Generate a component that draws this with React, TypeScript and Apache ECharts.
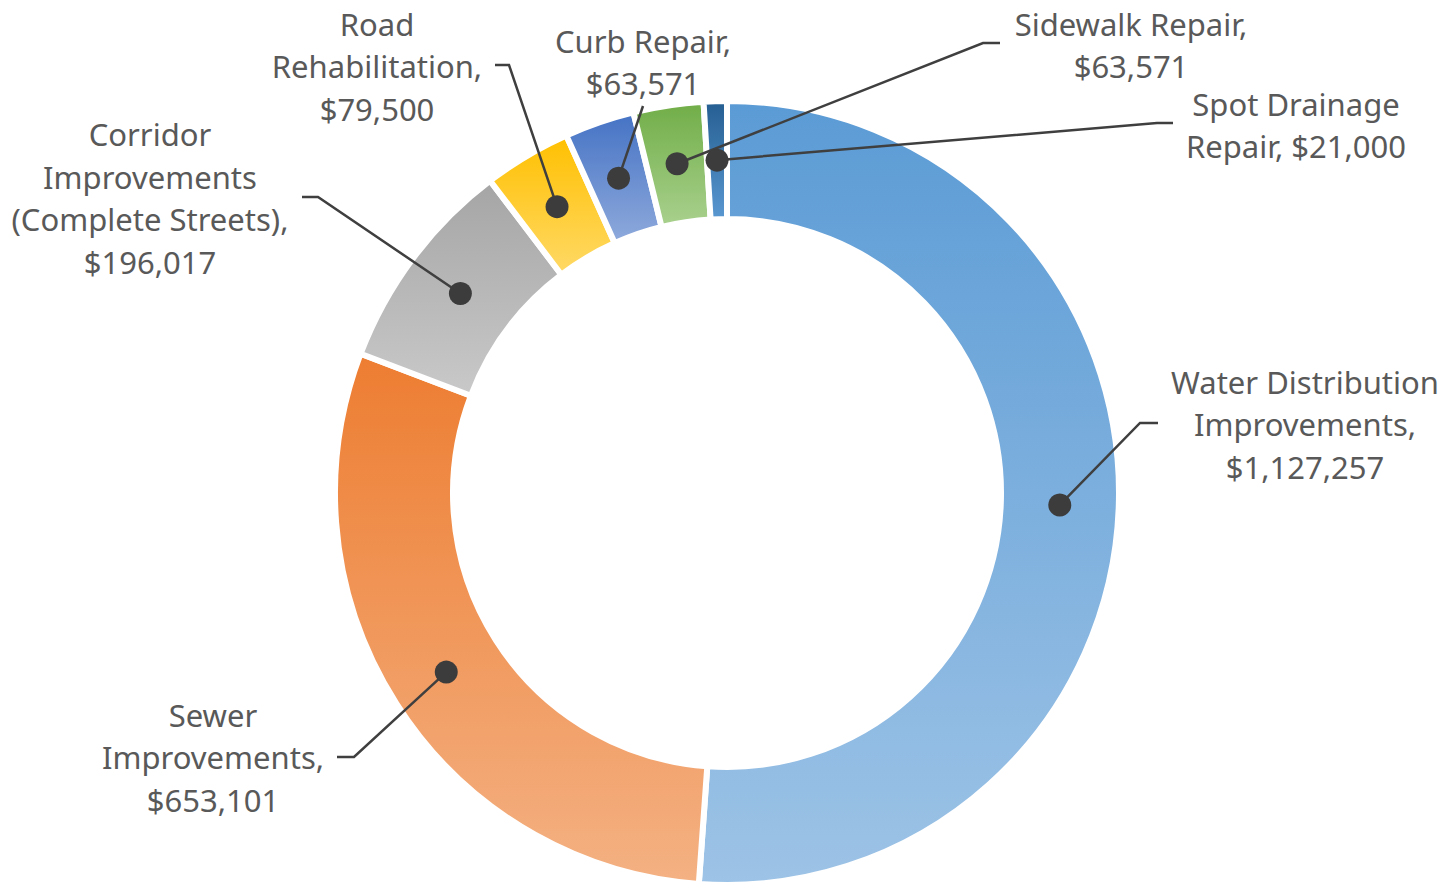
import React, { useEffect, useRef } from "react";
import * as echarts from "echarts";

// ---- data ----
const CATEGORIES = [
  "Water Distribution Improvements",
  "Sewer Improvements",
  "Corridor Improvements (Complete Streets)",
  "Road Rehabilitation",
  "Curb Repair",
  "Sidewalk Repair",
  "Spot Drainage Repair",
];
const VALUES = [1127257, 653101, 196017, 79500, 63571, 63571, 21000];
// wrapped label text (name part) and separator before the value
const LABEL_NAMES = [
  "Water Distribution\nImprovements",
  "Sewer\nImprovements",
  "Corridor\nImprovements\n(Complete Streets)",
  "Road\nRehabilitation",
  "Curb Repair",
  "Sidewalk Repair",
  "Spot Drainage\nRepair",
];
const VALUE_SEP = ["\n", "\n", "\n", "\n", "\n", "\n", " "];

// ---- styles / layout ----
const TOP_COLORS = ["#5B9BD5", "#ED7D31", "#A5A5A5", "#FFC000", "#4472C4", "#70AD47", "#255E91"];
const BOTTOM_COLORS = ["#9DC3E6", "#F4B183", "#C9C9C9", "#FFD966", "#8FAADC", "#A9D18E", "#5A98D2"];
const CENTER: [number, number] = [727, 493];
const OUTER = 389;
const INNER = 277;
const GAP = 6;
const DOT_R = (OUTER + INNER) / 2;
// label centres and leader elbows / ends
const LABEL_POS: [number, number][] = [
  [1305, 424],
  [213, 757],
  [150, 198],
  [377, 66],
  [643, 62],
  [1131, 45],
  [1296, 125],
];
const LINE_ELBOW: [number, number][] = [
  [1140, 423],
  [354, 757],
  [318, 197],
  [509, 65],
  [643, 106],
  [983, 43],
  [1157, 123],
];
const LINE_END: [number, number][] = [
  [1158, 423],
  [337, 757],
  [302, 197],
  [495, 65],
  [643, 106],
  [1000, 43],
  [1173, 123],
];

const TOTAL = VALUES.reduce((a, b) => a + b, 0);
const MIDS: number[] = [];
{
  let acc = 0;
  for (const v of VALUES) {
    MIDS.push(acc + v / 2);
    acc += v;
  }
}

function dotPixel(i: number): [number, number] {
  const th = (MIDS[i] / TOTAL) * Math.PI * 2;
  return [CENTER[0] + DOT_R * Math.sin(th), CENTER[1] - DOT_R * Math.cos(th)];
}

export default function App() {
  const ref = useRef<HTMLDivElement>(null);
  useEffect(() => {
    if (!ref.current) return;
    const chart = echarts.init(ref.current, undefined, { renderer: "svg" });
    const pieBase = {
      type: "pie",
      center: CENTER,
      radius: [INNER - GAP / 2, OUTER + GAP / 2],
      startAngle: 90,
      clockwise: true,
      avoidLabelOverlap: false,
      silent: true,
      emphasis: { disabled: true },
    };
    const option: any = {
      animation: false,
      backgroundColor: "#ffffff",
      polar: { center: CENTER, radius: OUTER },
      angleAxis: {
        type: "value",
        min: 0,
        max: TOTAL,
        startAngle: 90,
        clockwise: true,
        show: false,
      },
      radiusAxis: { type: "value", min: 0, max: OUTER, show: false },
      series: [
        {
          ...pieBase,
          id: "donut",
          z: 2,
          itemStyle: { borderColor: "#ffffff", borderWidth: GAP },
          label: { show: false },
          labelLine: { show: false },
          data: CATEGORIES.map((name, i) => ({
            name,
            value: VALUES[i],
            itemStyle: {
              color: {
                type: "linear",
                x: 0,
                y: 0,
                x2: 0,
                y2: 1,
                colorStops: [
                  { offset: 0, color: TOP_COLORS[i] },
                  { offset: 1, color: BOTTOM_COLORS[i] },
                ],
              },
            },
          })),
        },
        {
          ...pieBase,
          id: "labels",
          z: 5,
          itemStyle: { color: "rgba(0,0,0,0)", borderWidth: 0 },
          label: {
            show: true,
            position: "outside",
            color: "#595959",
            fontSize: 31,
            lineHeight: 42.5,
            fontFamily: "Noto Sans",
            align: "center",
            formatter: (p: any) =>
              `${LABEL_NAMES[p.dataIndex]},${VALUE_SEP[p.dataIndex]}$${p.value.toLocaleString("en-US")}`,
          },
          labelLine: {
            show: true,
            showAbove: true,
            length: 10,
            length2: 10,
            lineStyle: { color: "#3F3F3F", width: 2.5 },
          },
          labelLayout: (params: any) => {
            const i = params.dataIndex;
            return {
              x: LABEL_POS[i][0],
              y: LABEL_POS[i][1],
              align: "center",
              verticalAlign: "middle",
              labelLinePoints: [dotPixel(i), LINE_ELBOW[i], LINE_END[i]],
            };
          },
          data: CATEGORIES.map((name, i) => ({ name, value: VALUES[i] })),
        },
        {
          type: "scatter",
          coordinateSystem: "polar",
          z: 10,
          silent: true,
          symbol: "circle",
          symbolSize: 23,
          itemStyle: { color: "#3C3C3C", opacity: 1 },
          data: MIDS.map((m) => [DOT_R, m]),
        },
      ],
    };
    chart.setOption(option);
    return () => chart.dispose();
  }, []);
  return (
    <div
      ref={ref}
      style={{ position: "fixed", left: 0, top: 0, width: 1448, height: 883 }}
    />
  );
}
